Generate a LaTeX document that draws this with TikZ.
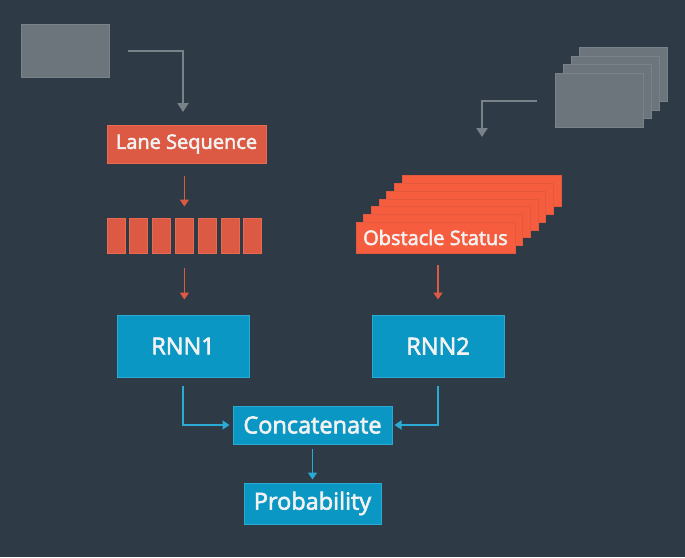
\documentclass[tikz,border=0pt]{standalone}
\usepackage{fontspec}
\setmainfont{Open Sans}
\newfontfamily\semibf{Open Sans}[FakeBold=2.6]
\usetikzlibrary{arrows.meta}
\definecolor{bg}{HTML}{2E3A46}
\definecolor{grayfill}{HTML}{6C747C}
\definecolor{grayline}{HTML}{7A8289}
\definecolor{lanefill}{HTML}{DC5A43}
\definecolor{laneline}{HTML}{EA6A50}
\definecolor{obsfill}{HTML}{F65D3E}
\definecolor{obsline}{HTML}{E2593D}
\definecolor{bluefill}{HTML}{0B97C3}
\definecolor{blueline}{HTML}{2AAAD4}
\definecolor{txt}{HTML}{F2F2F2}
\tikzset{
  graybox/.style={draw=grayline, fill=grayfill, line width=1pt, inner sep=0pt},
  redbox/.style={draw=laneline, fill=lanefill, line width=1pt, inner sep=0pt, text=txt},
  obsbox/.style={draw=obsline, fill=obsfill, line width=0.8pt, inner sep=0pt, text=txt,
     minimum width=159pt, minimum height=31pt},
  bluebox/.style={draw=blueline, fill=bluefill, line width=1pt, inner sep=0pt, text=txt},
  grayarrow/.style={draw=grayline, line width=2.2pt, -{Triangle[width=11pt,length=9pt]}},
  redarrow/.style={draw=lanefill, line width=1.8pt, -{Triangle[width=9pt,length=7pt]}},
  bluearrow/.style={draw=blueline, line width=1.8pt, -{Triangle[width=9pt,length=7pt]}},
  bigtext/.style={font=\semibf\fontsize{23.5}{27}\selectfont},
  smalltext/.style={font=\semibf\fontsize{20}{23}\selectfont},
}
\begin{document}
\begin{tikzpicture}[x=1pt,y=-1pt]
\fill[bg] (0,0) rectangle (685,557);
\useasboundingbox (0,0) rectangle (685,557);

% left gray input
\node[graybox, minimum width=88pt, minimum height=53pt] (gin1) at (65,50.5) {};
% right gray stack
\foreach \i in {3,2,1} {
  \node[graybox, minimum width=88pt, minimum height=54pt] (gs\i) at ({599+8.3*\i},{100-8.5*\i}) {};
}
\node[graybox, minimum width=88pt, minimum height=54pt] (gin2) at (599,100) {};

% lane sequence
\node[redbox, minimum width=159pt, minimum height=38pt, smalltext] (lane) at (186.5,144) {Lane Sequence};
% blocks
\foreach \i in {1,...,7} {
  \node[redbox, minimum width=18pt, minimum height=35pt] (b\i) at ({116+22.8*(\i-1)},235.5) {};
}

% obstacle status stack
\foreach \i in {6,5,...,1} {
  \node[obsbox] (os\i) at ({435.5+7.7*\i},{237.5-7.7*\i}) {};
}
\node[obsbox, smalltext] (obs) at (435.5,237.5) {Obstacle Status};

% RNNs
\node[bluebox, minimum width=132pt, minimum height=62pt, bigtext] (rnn1) at (183,346) {RNN1};
\node[bluebox, minimum width=132pt, minimum height=62pt, bigtext] (rnn2) at (438,346) {RNN2};
\node[bluebox, minimum width=159pt, minimum height=38pt, bigtext] (concat) at (312.5,425) {Concatenate};
\node[bluebox, minimum width=137pt, minimum height=41pt, bigtext] (prob) at (312.5,503.5) {Probability};

% gray arrows
\coordinate (g1s) at (128,51);
\coordinate (g1e) at (183,112);
\draw[grayarrow] (g1s) -| (g1e);
\coordinate (g2s) at (537,101);
\coordinate (g2e) at (482,137);
\draw[grayarrow] (g2s) -| (g2e);

% red arrows
\draw[redarrow, shorten <=12pt, shorten >=11pt] (lane.south -| b4.north) -- (b4.north);
\draw[redarrow, shorten <=14pt, shorten >=15pt] (b4.south) -- (b4.south |- rnn1.north);
\draw[redarrow, shorten <=12pt, shorten >=15pt] (obs.south -| rnn2.north) -- (rnn2.north);

% blue arrows
\draw[bluearrow, shorten >=3pt] ([yshift=-8pt]rnn1.south) |- (concat.west);
\draw[bluearrow, shorten >=2pt] ([yshift=-8pt]rnn2.south) |- (concat.east);
\draw[bluearrow, shorten <=4pt, shorten >=3pt] (concat.south) -- (prob.north);
\end{tikzpicture}
\end{document}
